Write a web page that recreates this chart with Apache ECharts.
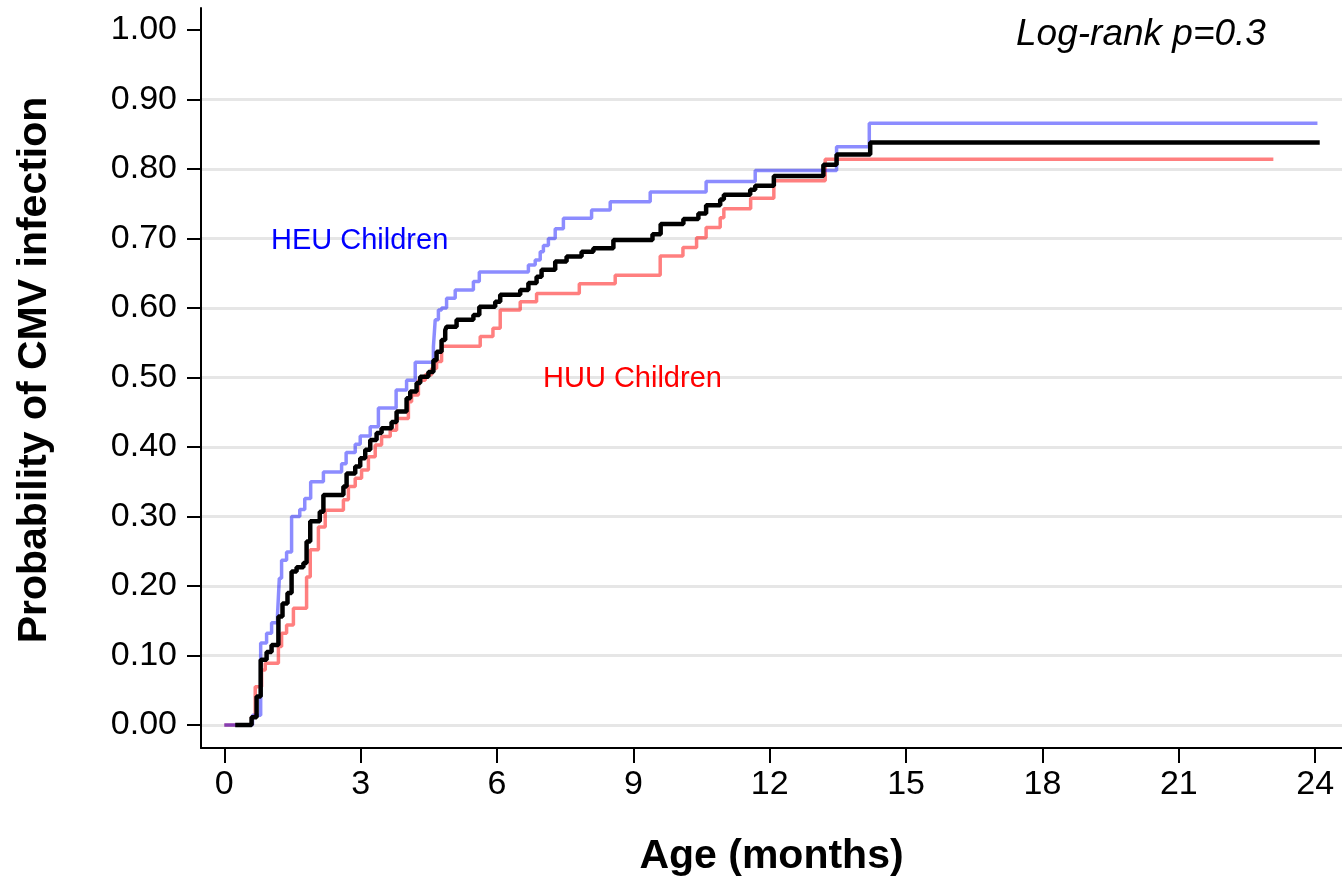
<!DOCTYPE html>
<html>
<head>
<meta charset="utf-8">
<script src="https://cdn.jsdelivr.net/npm/echarts@6/dist/echarts.min.js"></script>
<style>
  html, body { margin: 0; padding: 0; background: #fff; }
  #chart { width: 1342px; height: 885px; }
</style>
</head>
<body>
<div id="chart"></div>
<script>
// ---- Data ----
const xTicks = [0, 3, 6, 9, 12, 15, 18, 21, 24];
const yTicks = [0, 0.1, 0.2, 0.3, 0.4, 0.5, 0.6, 0.7, 0.8, 0.9, 1.0];
const gridValues = [0, 0.1, 0.2, 0.3, 0.4, 0.5, 0.6, 0.7, 0.8, 0.9];

const heuTimes = [0, 0.62, 0.80, 0.93, 1.04, 1.17, 1.21, 1.26, 1.37, 1.48, 1.66, 1.77, 1.90, 2.18, 2.58, 2.68, 2.88, 2.99, 3.21, 3.39, 3.78, 4.01, 4.20, 4.60, 4.64, 4.71, 4.78, 4.89, 5.08, 5.48, 5.61, 6.69, 6.84, 6.95, 7.02, 7.13, 7.28, 7.46, 8.08, 8.49, 9.37, 10.60, 11.68, 13.47, 14.19, 24.05];
const heuProb  = [0, 0.014, 0.118, 0.132, 0.147, 0.158, 0.211, 0.237, 0.249, 0.300, 0.310, 0.326, 0.350, 0.364, 0.376, 0.392, 0.404, 0.416, 0.429, 0.456, 0.482, 0.496, 0.522, 0.544, 0.583, 0.597, 0.600, 0.614, 0.626, 0.638, 0.652, 0.662, 0.669, 0.681, 0.690, 0.700, 0.714, 0.729, 0.741, 0.753, 0.767, 0.782, 0.798, 0.832, 0.866, 0.866];

const huuTimes = [0, 0.60, 0.68, 0.82, 0.90, 1.19, 1.26, 1.37, 1.52, 1.81, 1.89, 2.07, 2.22, 2.62, 2.73, 2.88, 3.02, 3.17, 3.32, 3.46, 3.65, 3.79, 4.05, 4.12, 4.27, 4.42, 4.56, 4.67, 4.78, 5.63, 5.91, 6.07, 6.51, 6.87, 7.81, 8.60, 9.59, 10.09, 10.39, 10.60, 10.91, 10.99, 11.58, 12.09, 13.22, 23.08];
const huuProb  = [0, 0.012, 0.055, 0.079, 0.089, 0.113, 0.132, 0.144, 0.168, 0.213, 0.252, 0.285, 0.309, 0.324, 0.343, 0.355, 0.367, 0.386, 0.403, 0.415, 0.424, 0.441, 0.465, 0.475, 0.496, 0.504, 0.513, 0.523, 0.545, 0.559, 0.571, 0.597, 0.609, 0.621, 0.635, 0.647, 0.675, 0.687, 0.701, 0.716, 0.730, 0.743, 0.758, 0.783, 0.814, 0.814];

const allTimes = [0.24, 0.60, 0.71, 0.80, 0.93, 1.04, 1.19, 1.28, 1.39, 1.48, 1.59, 1.74, 1.81, 1.89, 2.10, 2.18, 2.62, 2.69, 2.88, 2.99, 3.10, 3.21, 3.35, 3.46, 3.68, 3.79, 4.01, 4.09, 4.23, 4.31, 4.49, 4.60, 4.67, 4.78, 4.86, 4.89, 5.11, 5.48, 5.61, 5.96, 6.07, 6.51, 6.69, 6.87, 6.98, 7.28, 7.53, 7.86, 8.12, 8.56, 9.42, 9.60, 10.10, 10.43, 10.60, 10.91, 10.99, 11.57, 11.68, 12.09, 13.18, 13.47, 14.21, 24.10];
const allProb  = [0, 0.011, 0.041, 0.094, 0.105, 0.115, 0.156, 0.175, 0.190, 0.221, 0.227, 0.233, 0.264, 0.293, 0.307, 0.331, 0.343, 0.362, 0.372, 0.384, 0.396, 0.410, 0.420, 0.427, 0.436, 0.451, 0.470, 0.480, 0.492, 0.501, 0.508, 0.525, 0.537, 0.554, 0.568, 0.573, 0.583, 0.590, 0.602, 0.609, 0.619, 0.626, 0.636, 0.645, 0.655, 0.667, 0.674, 0.681, 0.686, 0.698, 0.706, 0.721, 0.728, 0.736, 0.748, 0.756, 0.763, 0.770, 0.776, 0.790, 0.806, 0.821, 0.838, 0.838];

const xTitle = 'Age (months)';
const yTitle = 'Probability of CMV infection';
const heuLabel = 'HEU Children';
const huuLabel = 'HUU Children';
const testLabel = 'Log-rank p=0.3';

// ---- Build ----
const zip = (a, b) => a.map((v, i) => [v, b[i]]);
const FONT = '"Liberation Sans", Arial, sans-serif';
const GRID_COLOR = '#e6e6e6';
// one colour per y tick: gridlines for gridValues only
const splitColors = yTicks.map(t => gridValues.includes(t) ? GRID_COLOR : 'rgba(0,0,0,0)');

const chart = echarts.init(document.getElementById('chart'), null, { renderer: 'canvas' });

chart.setOption({
  animation: false,
  backgroundColor: '#ffffff',
  grid: { left: 201, right: 0, top: 8, bottom: 137, containLabel: false },
  xAxis: {
    type: 'value',
    min: -0.513,
    max: 24.59,
    name: xTitle,
    nameLocation: 'middle',
    nameGap: 88,
    nameTextStyle: { fontFamily: FONT, fontSize: 41, fontWeight: 'bold', color: '#000' },
    axisLine: { onZero: false, lineStyle: { color: '#000', width: 2 } },
    axisTick: { show: true, customValues: xTicks, length: 15, lineStyle: { color: '#000', width: 2 } },
    axisLabel: { customValues: xTicks, margin: 20, fontFamily: FONT, fontSize: 34, color: '#000' },
    splitLine: { show: false }
  },
  yAxis: {
    type: 'value',
    min: -0.0331,
    max: 1.0317,
    name: yTitle,
    nameLocation: 'middle',
    nameGap: 146,
    nameRotate: 90,
    nameTextStyle: { fontFamily: FONT, fontSize: 41, fontWeight: 'bold', color: '#000',
                     padding: [0, 0, 0, 16] },
    axisLine: { show: true, onZero: false, lineStyle: { color: '#000', width: 2 } },
    axisTick: { show: true, customValues: yTicks, length: 14, lineStyle: { color: '#000', width: 2 } },
    axisLabel: { customValues: yTicks, margin: 24, fontFamily: FONT, fontSize: 34, color: '#000',
                 formatter: v => v.toFixed(2) },
    splitLine: { show: true, lineStyle: { color: splitColors, width: 3 } }
  },
  series: [
    {
      name: huuLabel,
      type: 'line',
      step: 'end',
      data: zip(huuTimes, huuProb),
      showSymbol: false,
      z: 2,
      lineStyle: { color: 'rgba(255,0,0,0.5)', width: 3.5 }
    },
    {
      name: heuLabel,
      type: 'line',
      step: 'end',
      data: zip(heuTimes, heuProb),
      showSymbol: false,
      z: 3,
      lineStyle: { color: 'rgba(0,0,255,0.45)', width: 3.5 }
    },
    {
      name: 'All',
      type: 'line',
      step: 'end',
      data: zip(allTimes, allProb),
      showSymbol: false,
      z: 4,
      lineStyle: { color: '#000000', width: 4.5 }
    }
  ],
  graphic: [
    { type: 'text', left: 1016, top: 16, z: 10,
      style: { text: testLabel, font: 'italic 37px ' + FONT, fill: '#000' } },
    { type: 'text', left: 271, top: 226, z: 10,
      style: { text: heuLabel, font: '29px ' + FONT, fill: '#0000ff' } },
    { type: 'text', left: 543, top: 364, z: 10,
      style: { text: huuLabel, font: '29px ' + FONT, fill: '#ff0000' } }
  ]
});
</script>
</body>
</html>
